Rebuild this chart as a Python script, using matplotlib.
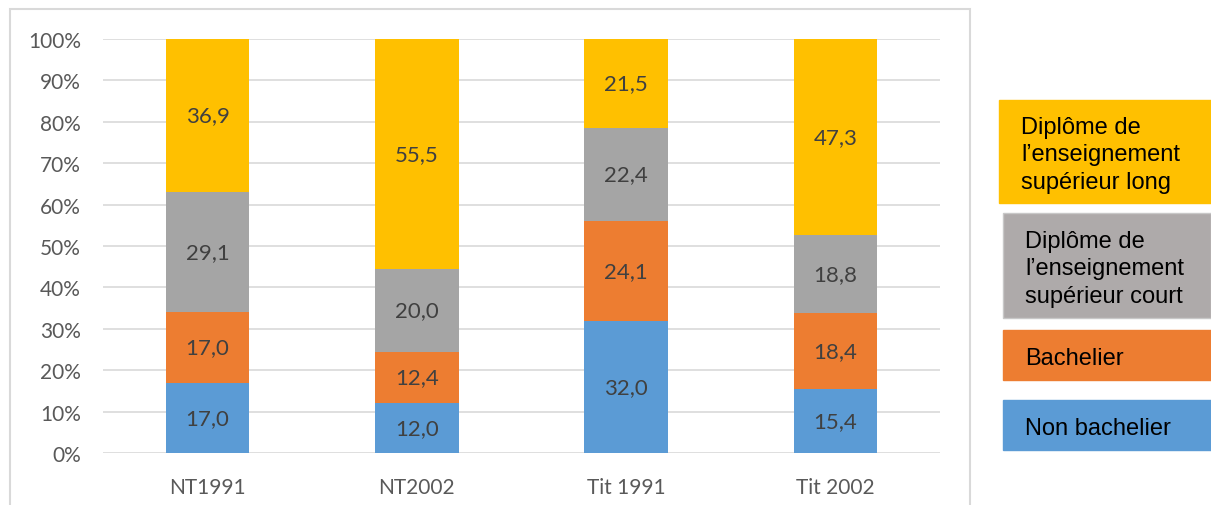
import numpy as np
import matplotlib.pyplot as plt
from matplotlib.patches import Rectangle

# Data
categories = ['NT1991', 'NT2002', 'Tit 1991', 'Tit 2002']
series_names = ['Non bachelier', 'Bachelier',
                "Diplôme de\nl’enseignement\nsupérieur court",
                "Diplôme de\nl’enseignement\nsupérieur long"]
non_bachelier = [17.0, 12.0, 32.0, 15.4]
bachelier = [17.0, 12.4, 24.1, 18.4]
sup_court = [29.1, 20.0, 22.4, 18.8]
sup_long = [36.9, 55.5, 21.5, 47.3]
yticks = [0, 10, 20, 30, 40, 50, 60, 70, 80, 90, 100]

colors = ['#5B9BD5', '#ED7D31', '#A5A5A5', '#FFC000']
legend_colors = ['#5B9BD5', '#ED7D31', '#AEAAAA', '#FFC000']

W, H = 1211, 506
fig = plt.figure(figsize=(W / 100, H / 100), dpi=100)
ax = fig.add_axes([103 / W, 1 - 454 / H, (940 - 103) / W, (454 - 40) / H])

data = np.array([non_bachelier, bachelier, sup_court, sup_long])
pct = data / data.sum(axis=0) * 100
x = np.arange(len(categories))
bottom = np.zeros(len(categories))
for i in range(len(data)):
    ax.bar(x, pct[i], 0.4, bottom=bottom, color=colors[i], zorder=2)
    for j in range(len(categories)):
        ax.text(x[j], bottom[j] + pct[i][j] / 2, f'{data[i][j]:.1f}'.replace('.', ','),
                ha='center', va='center', fontsize=16, color='#404040',
                family='Lato', zorder=3)
    bottom += pct[i]

ax.set_xlim(-0.5, 3.5)
ax.set_ylim(0, 100)
ax.set_yticks(yticks)
ax.set_yticklabels([f'{t}%' for t in yticks])
ax.set_xticks(x)
ax.set_xticklabels(categories)
ax.yaxis.grid(True, color='#D9D9D9', linewidth=1.2, zorder=0)
ax.set_axisbelow(True)
for s in ax.spines.values():
    s.set_visible(False)
ax.tick_params(length=0, labelsize=15, labelcolor='#595959')
ax.tick_params(axis='y', pad=16)
ax.tick_params(axis='x', pad=17)
for lab in ax.get_xticklabels() + ax.get_yticklabels():
    lab.set_family('Lato')

# outer chart border
fig.patches.append(Rectangle((10 / W, -0.05), 960 / W, 1 - 10 / H + 0.05,
                             transform=fig.transFigure, fill=False,
                             edgecolor='#D9D9D9', linewidth=1.5))

# legend boxes (top to bottom)
boxes = [(999, 101, 204, 3), (1003, 214, 319, 2), (1003, 331, 381, 1), (1003, 401, 451, 0)]
for x0, y0, y1, k in boxes:
    ec = '#C8C8C8' if k == 2 else legend_colors[k]
    fig.patches.append(Rectangle((x0 / W, 1 - y1 / H), (W - x0) / W, (y1 - y0) / H,
                                 transform=fig.transFigure, facecolor=legend_colors[k],
                                 edgecolor=ec, linewidth=1))
    fig.text((x0 + 22) / W, 1 - ((y0 + y1) / 2 + 3) / H, series_names[k], ha='left',
             va='center', fontsize=17, family='Liberation Sans', color='black',
             linespacing=1.3)

fig.savefig('out.png', dpi=100)
